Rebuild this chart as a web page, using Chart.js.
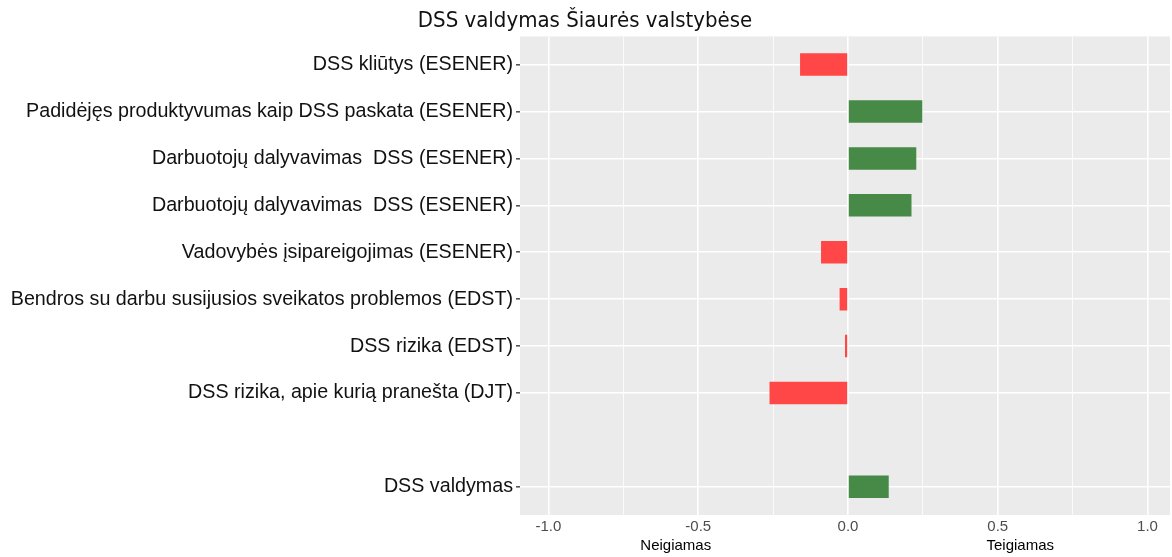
<!DOCTYPE html>
<html>
<head>
<meta charset="utf-8">
<script src="https://cdn.jsdelivr.net/npm/chart.js@4"></script>
<style>
  html, body { margin: 0; padding: 0; background: #fff; }
  #wrap { width: 1172px; height: 557px; }
</style>
</head>
<body>
<div id="wrap"><canvas id="chart" width="1172" height="557"></canvas></div>
<script>
const labels = [
  "DSS kliūtys (ESENER)",
  "Padidėjęs produktyvumas kaip DSS paskata (ESENER)",
  "Darbuotojų dalyvavimas  DSS (ESENER)",
  "Darbuotojų dalyvavimas  DSS (ESENER)",
  "Vadovybės įsipareigojimas (ESENER)",
  "Bendros su darbu susijusios sveikatos problemos (EDST)",
  "DSS rizika (EDST)",
  "DSS rizika, apie kurią pranešta (DJT)",
  "DSS valdymas",
];
// row slots from the top; slot 9 is left empty in the original
const rows = [1, 2, 3, 4, 5, 6, 7, 8, 10];
const values = [-0.16, 0.248, 0.228, 0.212, -0.09, -0.028, -0.01, -0.262, 0.136];
const xTicks = [-1, -0.75, -0.5, -0.25, 0, 0.25, 0.5, 0.75, 1];
const sideLabels = [
  { text: "Neigiamas", at: -0.575 },
  { text: "Teigiamas", at: 0.575 },
];

const red = "#FF4747";
const green = "#478A47";
const labelFont = "'Liberation Sans', Arial, sans-serif";

const panelBg = {
  id: "panelBg",
  beforeDraw(c) {
    const { ctx, chartArea: a } = c;
    ctx.save();
    ctx.fillStyle = "#EBEBEB";
    ctx.fillRect(a.left, a.top, a.right - a.left, a.bottom - a.top);
    ctx.restore();
  },
};

const sideText = {
  id: "sideText",
  afterDraw(c) {
    const { ctx } = c;
    const x = c.scales.x;
    ctx.save();
    ctx.fillStyle = "#000";
    ctx.font = "15px " + labelFont;
    ctx.textAlign = "center";
    ctx.textBaseline = "middle";
    sideLabels.forEach((s) => ctx.fillText(s.text, x.getPixelForValue(s.at), 546));
    ctx.restore();
  },
};

const isMajor = (v) => Math.abs(v * 2 - Math.round(v * 2)) < 1e-6;

new Chart(document.querySelector("#chart").getContext("2d"), {
  type: "bar",
  data: {
    datasets: [
      {
        data: rows.map((r, i) => ({ x: values[i], y: r })),
        backgroundColor: values.map((v) => (v < 0 ? red : green)),
        borderWidth: 0,
        barPercentage: 0.48,
        categoryPercentage: 1,
      },
    ],
  },
  options: {
    responsive: false,
    animation: false,
    indexAxis: "y",
    layout: { padding: { left: 0, right: 2, top: 0, bottom: 0 } },
    plugins: {
      legend: { display: false },
      tooltip: { enabled: false },
      title: {
        display: true,
        text: "DSS valdymas Šiaurės valstybėse",
        color: "#111",
        font: { family: "'Liberation Sans Narrow', 'DejaVu Sans Condensed', sans-serif", size: 22, weight: "normal" },
        padding: { top: 8, bottom: 2 },
        align: "center",
      },
    },
    scales: {
      x: {
        type: "linear",
        min: -1.095,
        max: 1.075,
        afterBuildTicks: (axis) => {
          axis.ticks = xTicks.map((v) => ({ value: v }));
        },
        afterFit: (axis) => {
          axis.height = 42;
        },
        border: { display: false },
        grid: {
          color: "#FFFFFF",
          lineWidth: (ctx) => (ctx.tick && isMajor(ctx.tick.value) ? 1.6 : 0.8),
          drawTicks: false,
        },
        ticks: {
          padding: 3,
          color: "#4D4D4D",
          font: { family: labelFont, size: 15 },
          maxRotation: 0,
          autoSkip: false,
          callback: (v) => (isMajor(v) ? v.toFixed(1) : ""),
        },
      },
      y: {
        type: "linear",
        reverse: true,
        offset: false,
        min: 0.4,
        max: 10.6,
        afterBuildTicks: (axis) => {
          axis.ticks = rows.map((r) => ({ value: r }));
        },
        afterFit: (axis) => {
          axis.width = 520;
        },
        border: { display: false },
        grid: {
          offset: false,
          color: "#FFFFFF",
          lineWidth: 1.6,
          tickColor: "#555",
          tickLength: 4,
        },
        ticks: {
          padding: 3,
          color: "#111",
          font: { family: labelFont, size: 19.7 },
          autoSkip: false,
          callback: (v) => labels[rows.indexOf(v)] || "",
        },
      },
    },
  },
  plugins: [panelBg, sideText],
});
</script>
</body>
</html>
